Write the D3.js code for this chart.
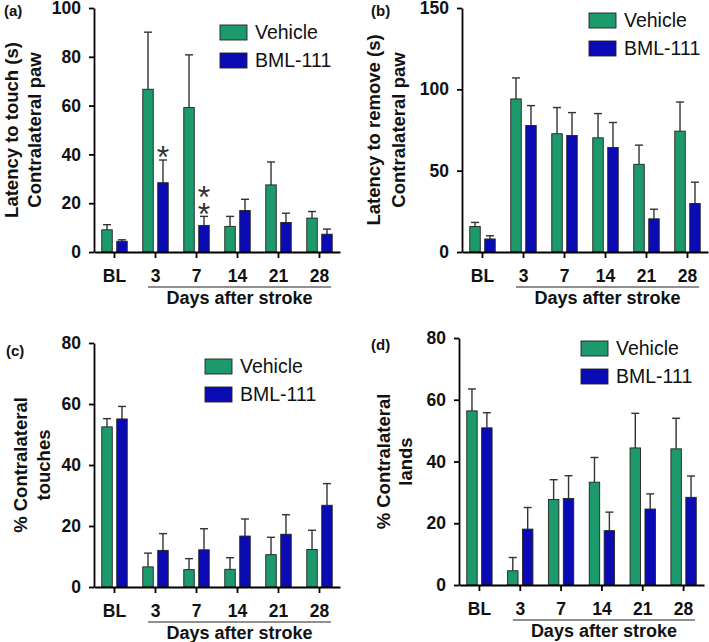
<!DOCTYPE html>
<html>
<head>
<meta charset="utf-8">
<script src="https://cdn.jsdelivr.net/npm/d3@7"></script>
<style>
  html, body { margin: 0; padding: 0; background: #fff; }
  svg { display: block; font-family: "Liberation Sans", Arial, sans-serif; }
</style>
</head>
<body>
<svg id="chart" width="709" height="642"></svg>
<script>
// ---------------- DATA ----------------
const categories = ["BL", "3", "7", "14", "21", "28"];
const seriesNames = ["Vehicle", "BML-111"];

// (a) Latency to touch (s)
const touchVehicleMean = [9.1, 66.7, 59.2, 10.5, 27.5, 13.9];
const touchVehicleSem  = [2.1, 23.4, 21.6, 4.1, 9.4, 2.7];
const touchBmlMean     = [4.4, 28.4, 10.9, 17.0, 12.1, 7.3];
const touchBmlSem      = [0.6, 9.3, 3.7, 4.6, 3.8, 2.1];

// (b) Latency to remove (s)
const removeVehicleMean = [15.7, 94.1, 72.7, 70.2, 53.9, 74.3];
const removeVehicleSem  = [2.5, 12.9, 16.1, 14.9, 11.8, 17.9];
const removeBmlMean     = [8.0, 77.8, 71.6, 64.3, 20.4, 29.8];
const removeBmlSem      = [2.0, 12.2, 14.1, 15.3, 5.9, 13.1];

// (c) % Contralateral touches
const touchesVehicleMean = [52.5, 6.6, 5.7, 5.8, 10.6, 12.3];
const touchesVehicleSem  = [2.7, 4.5, 3.6, 3.8, 5.7, 6.3];
const touchesBmlMean     = [55.1, 12.0, 12.2, 16.7, 17.3, 26.8];
const touchesBmlSem      = [4.1, 5.5, 6.9, 5.6, 6.4, 7.1];

// (d) % Contralateral lands
const landsVehicleMean = [56.4, 4.6, 27.7, 33.3, 44.4, 44.1];
const landsVehicleSem  = [7.1, 4.3, 6.4, 8.0, 11.2, 9.9];
const landsBmlMean     = [50.9, 18.1, 28.0, 17.6, 24.6, 28.4];
const landsBmlSem      = [4.9, 7.0, 7.4, 6.0, 4.9, 6.9];

// tick labels
const ticksA = [0, 20, 40, 60, 80, 100];
const ticksB = [0, 50, 100, 150];
const ticksCD = [0, 20, 40, 60, 80];

// significance marks (panel a): category, series, number of stars
const significance = [
  { cat: "3", series: "BML-111", stars: 1 },
  { cat: "7", series: "BML-111", stars: 2 }
];

const xTitle = "Days after stroke";

// ---------------- STYLE / LAYOUT ----------------
const colors = { "Vehicle": "#1d9a6b", "BML-111": "#0b0bb6" };

const panels = [
  { label: "(a)", labelX: 4, labelY: 16,
    left: 94, right: 340, top: 8, bottom: 252, max: 100, ticks: ticksA,
    titles: ["Latency to touch (s)", "Contralateral paw"], titleX: [18, 41],
    legendX: 220, legendY: 25,
    data: { "Vehicle": [touchVehicleMean, touchVehicleSem], "BML-111": [touchBmlMean, touchBmlSem] },
    sig: significance },
  { label: "(b)", labelX: 371, labelY: 16,
    left: 462, right: 708, top: 8, bottom: 252, max: 150, ticks: ticksB,
    titles: ["Latency to remove (s)", "Contralateral paw"], titleX: [380, 405],
    legendX: 589, legendY: 13,
    data: { "Vehicle": [removeVehicleMean, removeVehicleSem], "BML-111": [removeBmlMean, removeBmlSem] },
    sig: [] },
  { label: "(c)", labelX: 6, labelY: 356,
    left: 94, right: 340, top: 343, bottom: 587, max: 80, ticks: ticksCD,
    titles: ["% Contralateral", "touches"], titleX: [27, 50],
    legendX: 205, legendY: 359,
    data: { "Vehicle": [touchesVehicleMean, touchesVehicleSem], "BML-111": [touchesBmlMean, touchesBmlSem] },
    sig: [] },
  { label: "(d)", labelX: 371, labelY: 350,
    left: 459, right: 704, top: 338, bottom: 585, max: 80, ticks: ticksCD,
    titles: ["% Contralateral", "lands"], titleX: [390, 412],
    legendX: 581, legendY: 341,
    data: { "Vehicle": [landsVehicleMean, landsVehicleSem], "BML-111": [landsBmlMean, landsBmlSem] },
    sig: [] }
];

const svg = d3.select("#chart");

function drawPanel(p) {
  const g = svg.append("g");
  const x0 = d3.scaleBand().domain(categories).range([p.left, p.right]).padding(0);
  const x1 = d3.scaleBand().domain(seriesNames).range([0, x0.bandwidth()])
    .paddingInner(0.3).paddingOuter(0.52);
  const y = d3.scaleLinear().domain([0, p.max]).range([p.bottom, p.top]);

  const rows = [];
  categories.forEach((c, i) => {
    seriesNames.forEach(s => {
      rows.push({ cat: c, series: s, mean: p.data[s][0][i], sem: p.data[s][1][i] });
    });
  });

  // error bars (upper only)
  const capW = 8;
  const eb = g.append("g").attr("stroke", "#333").attr("stroke-width", 1.4);
  rows.forEach(d => {
    const cx = x0(d.cat) + x1(d.series) + x1.bandwidth() / 2;
    eb.append("line").attr("x1", cx).attr("x2", cx)
      .attr("y1", y(d.mean)).attr("y2", y(d.mean + d.sem));
    eb.append("line").attr("x1", cx - capW / 2).attr("x2", cx + capW / 2)
      .attr("y1", y(d.mean + d.sem)).attr("y2", y(d.mean + d.sem));
  });

  // bars
  g.append("g").selectAll("rect").data(rows).join("rect")
    .attr("x", d => x0(d.cat) + x1(d.series))
    .attr("y", d => y(d.mean))
    .attr("width", x1.bandwidth())
    .attr("height", d => y(0) - y(d.mean))
    .attr("fill", d => colors[d.series])
    .attr("stroke", "#222")
    .attr("stroke-width", 0.9);

  // y axis
  const ya = g.append("g").attr("transform", `translate(${p.left},0)`)
    .call(d3.axisLeft(y).tickValues(p.ticks).tickSize(5).tickSizeOuter(0).tickPadding(8));
  // x axis
  const xa = g.append("g").attr("transform", `translate(0,${p.bottom})`)
    .call(d3.axisBottom(x0).tickSize(6).tickSizeOuter(0).tickPadding(12));
  [ya, xa].forEach(a => {
    a.select(".domain").attr("stroke", "#000").attr("stroke-width", 1.8);
    a.selectAll(".tick line").attr("stroke", "#000").attr("stroke-width", 1.8);
    a.selectAll(".tick text").attr("fill", "#111").attr("font-size", 17.5)
      .attr("font-weight", "bold").attr("font-family", "Liberation Sans, Arial, sans-serif");
  });

  // "Days after stroke" underline + title
  const ux1 = x0("3") + 13, ux2 = x0("28") + x0.bandwidth() - 9;
  g.append("line").attr("x1", ux1).attr("x2", ux2)
    .attr("y1", p.bottom + 35).attr("y2", p.bottom + 35)
    .attr("stroke", "#222").attr("stroke-width", 1.2);
  g.append("text").attr("x", (ux1 + ux2) / 2).attr("y", p.bottom + 52)
    .attr("text-anchor", "middle").attr("font-size", 18).attr("font-weight", "bold")
    .attr("fill", "#111").text(xTitle);

  // y title (two lines)
  const cy = (p.top + p.bottom) / 2;
  p.titles.forEach((t, i) => {
    g.append("text")
      .attr("transform", `translate(${p.titleX[i]},${cy}) rotate(-90)`)
      .attr("text-anchor", "middle").attr("font-size", 18.5).attr("font-weight", "bold")
      .attr("fill", "#111").text(t);
  });

  // panel label
  g.append("text").attr("x", p.labelX).attr("y", p.labelY)
    .attr("font-size", 15).attr("font-weight", "bold").attr("fill", "#111").text(p.label);

  // legend
  seriesNames.forEach((s, i) => {
    const ly = p.legendY + i * 28;
    g.append("rect").attr("x", p.legendX).attr("y", ly).attr("width", 27).attr("height", 15)
      .attr("fill", colors[s]).attr("stroke", "#222").attr("stroke-width", 0.9);
    g.append("text").attr("x", p.legendX + 35).attr("y", ly + 14)
      .attr("font-size", 19.5).attr("fill", "#111").text(s);
  });

  // significance asterisks (stacked in one text element)
  p.sig.forEach(sg => {
    const idx = categories.indexOf(sg.cat);
    const m = p.data[sg.series][0][idx], e = p.data[sg.series][1][idx];
    const cx = x0(sg.cat) + x1(sg.series) + x1.bandwidth() / 2;
    const yTop = y(m + e);
    const fs = 32, glyphCenter = 0.57 * fs;
    const firstBaseline = yTop - 10 - (sg.stars - 1) * 17 + glyphCenter;
    const t = g.append("text").attr("text-anchor", "middle").attr("font-size", fs).attr("fill", "#333");
    for (let k = 0; k < sg.stars; k++) {
      t.append("tspan").attr("x", cx)
        .attr("y", firstBaseline + k * 17).text("*");
    }
  });
}

panels.forEach(drawPanel);
</script>
</body>
</html>
